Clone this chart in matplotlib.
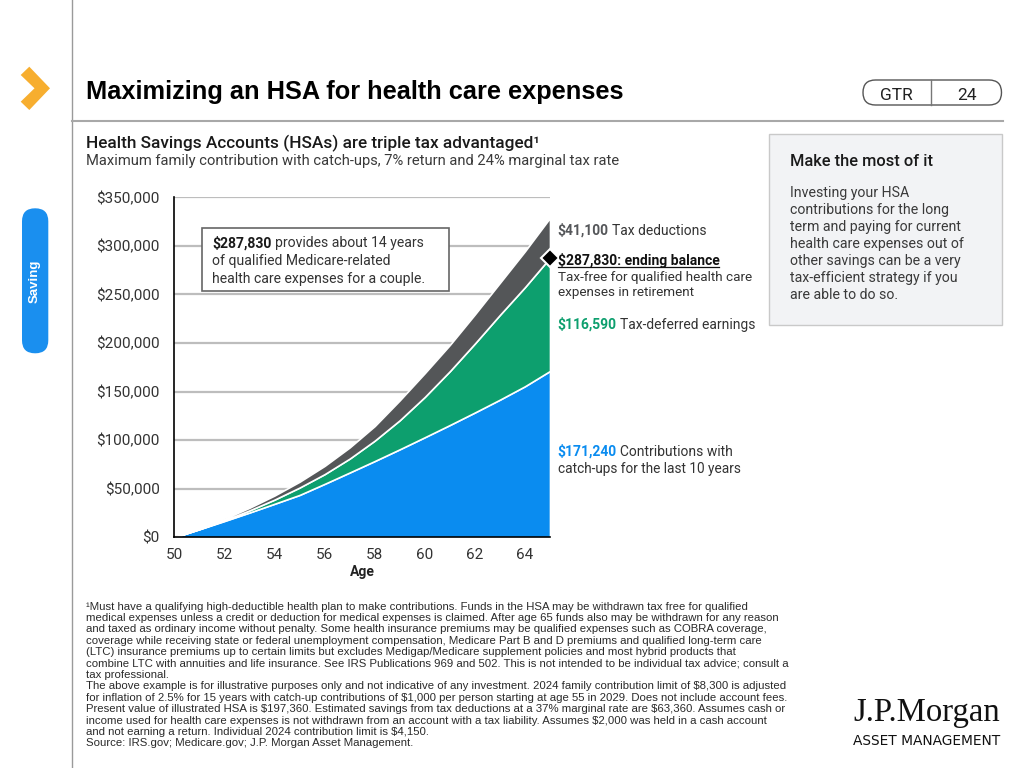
import matplotlib
matplotlib.use("Agg")
import matplotlib.pyplot as plt
from matplotlib.patches import FancyBboxPatch, Rectangle, Polygon

plt.rcParams["text.parse_math"] = False

# Data
ages = list(range(50, 66))
contributions = [0, 8300, 16800, 25500, 34500, 43600, 55000, 66700, 78500,
                 90600, 103000, 115600, 128500, 141700, 155500, 171240]
earnings = [0, 200, 800, 2200, 4300, 7600, 10000, 14300, 21000,
            29900, 41500, 55400, 71000, 87300, 102000, 116590]
tax_deductions = [0, 600, 1500, 2700, 4200, 6000, 8500, 11500, 15000,
                  20500, 24500, 27000, 30000, 33000, 37000, 41100]
ending_balance = contributions[-1] + earnings[-1]

y_ticks = [0, 50000, 100000, 150000, 200000, 250000, 300000, 350000]
x_ticks = [50, 52, 54, 56, 58, 60, 62, 64]

footnotes = [
    "\u00b9Must have a qualifying high-deductible health plan to make contributions. Funds in the HSA may be withdrawn tax free for qualified",
    "medical expenses unless a credit or deduction for medical expenses is claimed. After age 65 funds also may be withdrawn for any reason",
    "and taxed as ordinary income without penalty. Some health insurance premiums may be qualified expenses such as COBRA coverage,",
    "coverage while receiving state or federal unemployment compensation, Medicare Part B and D premiums and qualified long-term care",
    "(LTC) insurance premiums up to certain limits but excludes Medigap/Medicare supplement policies and most hybrid products that",
    "combine LTC with annuities and life insurance. See IRS Publications 969 and 502. This is not intended to be individual tax advice; consult a",
    "tax professional.",
    "The above example is for illustrative purposes only and not indicative of any investment. 2024 family contribution limit of $8,300 is adjusted",
    "for inflation of 2.5% for 15 years with catch-up contributions of $1,000 per person starting at age 55 in 2029. Does not include account fees.",
    "Present value of illustrated HSA is $197,360. Estimated savings from tax deductions at a 37% marginal rate are $63,360. Assumes cash or",
    "income used for health care expenses is not withdrawn from an account with a tax liability. Assumes $2,000 was held in a cash account",
    "and not earning a return. Individual 2024 contribution limit is $4,150.",
    "Source: IRS.gov; Medicare.gov; J.P. Morgan Asset Management.",
]

side_text = ["Investing your HSA", "contributions for the long",
             "term and paying for current", "health care expenses out of",
             "other savings can be a very", "tax-efficient strategy if you",
             "are able to do so."]

# Colours
BLUE = "#0A8CF0"
GREEN = "#0D9F6E"
GRAY = "#545658"
TXT = "#333333"
BODY = "Roboto"

W, H = 1024, 768
fig = plt.figure(figsize=(W / 100, H / 100), dpi=100)
fig.patch.set_facecolor("white")

# Chart axes, placed in pixel terms
l, r, t, b = 174.3, 550.0, 197.3, 537.3
ax = fig.add_axes([l / W, 1 - b / H, (r - l) / W, (b - t) / H], zorder=1)
ax.stackplot(ages, contributions, earnings, tax_deductions,
             colors=[BLUE, GREEN, GRAY], edgecolor="white", linewidth=1.2)
ax.set_xlim(50, 65)
ax.set_ylim(0, 350000)
ax.set_yticks(y_ticks)
ax.set_yticklabels([f"${v:,.0f}" for v in y_ticks])
ax.set_xticks(x_ticks)
ax.set_xticklabels([str(a) for a in x_ticks])
ax.yaxis.grid(True, color="#BDBDBD", lw=1.6)
ax.set_axisbelow(True)
for s in ["top", "right"]:
    ax.spines[s].set_visible(False)
for s in ["left", "bottom"]:
    ax.spines[s].set_color("black")
    ax.spines[s].set_linewidth(1.2)
ax.tick_params(length=0, labelsize=11, labelcolor=TXT)
ax.tick_params(axis="y", pad=10.5)
ax.tick_params(axis="x", pad=8)
for lab in ax.get_xticklabels() + ax.get_yticklabels():
    lab.set_fontfamily(BODY)
ax.set_xlabel("Age", fontsize=10, fontweight="bold", fontfamily=BODY,
              color="#222222", labelpad=2)
ax.plot([65], [ending_balance], marker="D", ms=9, mfc="black", mec="white",
        mew=1.5, clip_on=False, zorder=5)

# Overlay axes in pixel coordinates for all the page furniture
ov = fig.add_axes([0, 0, 1, 1], zorder=5)
ov.set_xlim(0, W)
ov.set_ylim(H, 0)
ov.patch.set_alpha(0)
ov.axis("off")
rend = fig.canvas.get_renderer()


def txt(x, y, s, size=10, **kw):
    kw.setdefault("family", BODY)
    kw.setdefault("color", TXT)
    return ov.text(x, y, s, fontsize=size, va="baseline", ha=kw.pop("ha", "left"), **kw)


def runs(x, y, parts, size=10, gap=3.5):
    out = []
    for s, kw in parts:
        tt = txt(x, y, s, size=size, **kw)
        x += tt.get_window_extent(renderer=rend).width + gap
        out.append(tt)
    return out


# left rail
ov.plot([72, 72], [0, H], color="#9A9A9A", lw=1)
ov.add_patch(Polygon([(20.7, 75), (29.3, 66.7), (50, 88.3), (29.3, 110),
                      (20.7, 101.7), (34.5, 88.3)], closed=True,
                     facecolor="#F7AE2F", edgecolor="none"))
ov.add_patch(FancyBboxPatch((22, 208.3), 26.3, 145, boxstyle="round,pad=0,rounding_size=13",
                            facecolor="#1A8FEF", edgecolor="none"))
ov.text(35, 281, "Saving", rotation=90, ha="center", va="center", color="white",
        fontsize=9.5, fontweight="bold", family="Liberation Sans")

# header
txt(86, 99, "Maximizing an HSA for health care expenses", size=18.3,
    family="Liberation Sans", fontweight="bold", color="black")
ov.plot([72, 1003], [121, 121], color="#A8A8A8", lw=1.5)
ov.add_patch(FancyBboxPatch((863, 80), 138.5, 25, boxstyle="round,pad=0,rounding_size=12.5",
                            facecolor="white", edgecolor="#555555", lw=1))
ov.plot([931, 931], [80, 105], color="#777777", lw=1)
txt(896, 99.5, "GTR", size=12.5, ha="center", color="#222222")
txt(966.5, 99.5, "24", size=12.5, ha="center", color="#222222")

# subtitles
txt(86, 148, "Health Savings Accounts (HSAs) are triple tax advantaged\u00b9", size=12.4,
    fontweight="medium", color="#1A1A1A")
txt(86, 164.5, "Maximum family contribution with catch-ups, 7% return and 24% marginal tax rate",
    size=10.6, color="#3A3A3A")

# side box
ov.add_patch(Rectangle((769.3, 134.3), 232.4, 190.7, facecolor="#F2F3F5",
                       edgecolor="#C9C9C9", lw=1))
txt(790, 166.5, "Make the most of it", size=11.8, fontweight="medium", color="#1A1A1A")
for i, line in enumerate(side_text):
    txt(790, 197 + i * 17.05, line, size=10.2, color="#3A3A3A")

# annotation box inside the chart
ov.add_patch(Rectangle((202.3, 228.3), 247, 62.4, facecolor="white",
                       edgecolor="#666666", lw=1.2))
runs(212.3, 247.5, [("$287,830", dict(fontweight="bold", color="#1A1A1A")),
                    ("provides about 14 years", {})], size=10.1)
txt(212.3, 265.5, "of qualified Medicare-related", size=10.1)
txt(212.3, 283.5, "health care expenses for a couple.", size=10.1)

# right-of-chart labels
runs(557.5, 235, [(f"${tax_deductions[-1]:,.0f}", dict(fontweight="bold", color="#55575A")),
                  ("Tax deductions", {})], size=10)
eb = txt(557.5, 264.5, f"${ending_balance:,.0f}: ending balance", size=10,
         fontweight="bold", color="#111111")
ebw = eb.get_window_extent(renderer=rend).width
ov.plot([557.5, 557.5 + ebw], [267, 267], color="#111111", lw=0.9)
txt(557.5, 281, "Tax-free for qualified health care", size=9.7)
txt(557.5, 296, "expenses in retirement", size=9.7)
runs(557.5, 328.5, [(f"${earnings[-1]:,.0f}", dict(fontweight="bold", color=GREEN)),
                    ("Tax-deferred earnings", {})], size=10)
runs(557.5, 456, [(f"${contributions[-1]:,.0f}", dict(fontweight="bold", color=BLUE)),
                  ("Contributions with", {})], size=10)
txt(557.5, 473, "catch-ups for the last 10 years", size=9.8)

# footnotes
for i, line in enumerate(footnotes):
    txt(86, 609.5 + i * 11.4, line, size=8.2, family="Liberation Sans", color="#2A2A2A")

# logo
txt(853, 721, "J.P.Morgan", size=23.6, family="Liberation Serif", color="#111111")
txt(853, 745, "ASSET MANAGEMENT", size=9.9, family="DejaVu Sans", color="#111111")

fig.savefig("out.png", dpi=100)
